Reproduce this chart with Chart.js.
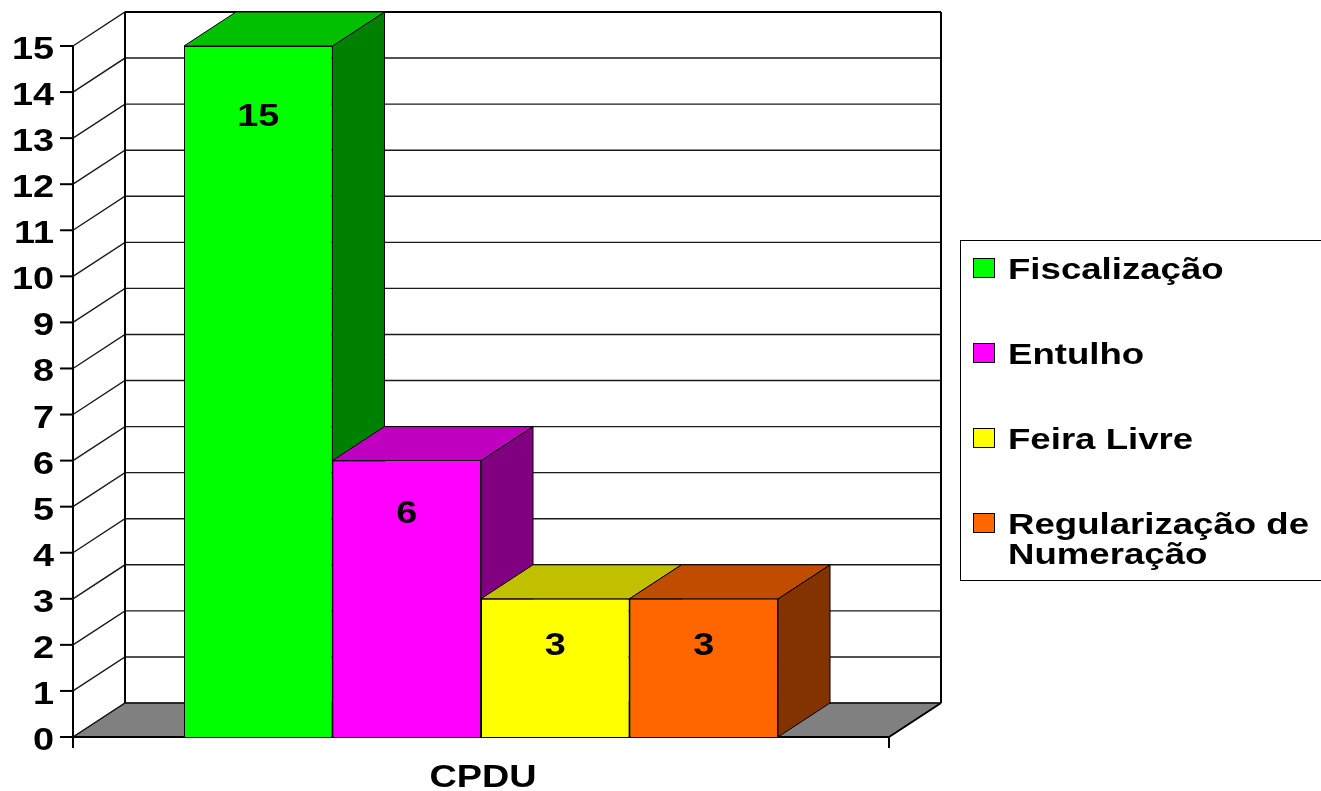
<!DOCTYPE html>
<html>
<head>
<meta charset="utf-8">
<title>CPDU</title>
<script src="https://cdn.jsdelivr.net/npm/chart.js@4.4.1/dist/chart.umd.min.js"></script>
<style>
  html, body { margin: 0; padding: 0; background: #ffffff; }
  #wrap { width: 1321px; height: 791px; position: relative; }
</style>
</head>
<body>
<div id="wrap"><canvas id="cpduChart"></canvas></div>
<script>
// data
const categories = ['CPDU'];
const seriesNames = ['Fiscalização', 'Entulho', 'Feira Livre', 'Regularização de Numeração'];
const seriesValues = [15, 6, 3, 3];
const yTickValues = [0, 1, 2, 3, 4, 5, 6, 7, 8, 9, 10, 11, 12, 13, 14, 15];

// face colours: front / top / side
const frontColors = ['#00ff00', '#ff00ff', '#ffff00', '#ff6600'];
const topColors = ['#00c000', '#c000c0', '#c0c000', '#c04c00'];
const sideColors = ['#008000', '#800080', '#808000', '#833300'];

const DX = 52;       // depth offset, x
const DY = 34;       // depth offset, y
const SX = 1.22;     // the original text is stretched sideways
const FONT = 'bold 31px "Liberation Sans", Arial, sans-serif';
const LEGEND_FONT = 'bold 30px "Liberation Sans", Arial, sans-serif';

function wideText(ctx, text, x, y, align) {
    ctx.save();
    ctx.translate(x, y);
    ctx.scale(SX, 1);
    ctx.textAlign = align;
    ctx.textBaseline = 'alphabetic';
    ctx.fillText(text, 0, 0);
    ctx.restore();
}

function line(ctx, pts) {
    ctx.beginPath();
    ctx.moveTo(pts[0][0], pts[0][1]);
    for (let i = 1; i < pts.length; i++) ctx.lineTo(pts[i][0], pts[i][1]);
    ctx.stroke();
}

function poly(ctx, pts, fill) {
    ctx.beginPath();
    ctx.moveTo(pts[0][0], pts[0][1]);
    for (let i = 1; i < pts.length; i++) ctx.lineTo(pts[i][0], pts[i][1]);
    ctx.closePath();
    ctx.fillStyle = fill;
    ctx.fill();
    ctx.stroke();
}

function drawWalls(chart) {
    const ctx = chart.ctx;
    const { left, right, top, bottom } = chart.chartArea;
    const y = chart.scales.y;

    ctx.save();
    ctx.strokeStyle = '#000000';
    ctx.lineWidth = 1;
    poly(ctx, [[left, bottom], [right, bottom], [right + DX, bottom - DY], [left + DX, bottom - DY]], '#808080');

    ctx.lineWidth = 1.4;
    ctx.strokeStyle = '#1a1a1a';
    yTickValues.forEach(v => {
        const py = y.getPixelForValue(v);
        line(ctx, [[left, py], [left + DX, py - DY], [right + DX, py - DY]]);
    });

    ctx.strokeStyle = '#000000';
    ctx.lineWidth = 2;
    line(ctx, [[left + DX, top - DY], [right + DX, top - DY]]);
    line(ctx, [[left + DX, top - DY], [left + DX, bottom - DY]]);
    line(ctx, [[right + DX, top - DY], [right + DX, bottom - DY]]);
    line(ctx, [[right, bottom], [right + DX, bottom - DY]]);

    // axes
    line(ctx, [[left, top], [left, bottom + 11]]);
    line(ctx, [[left, bottom], [right, bottom]]);
    line(ctx, [[right, bottom], [right, bottom + 11]]);

    ctx.fillStyle = '#000000';
    ctx.font = FONT;
    yTickValues.forEach(v => {
        const py = y.getPixelForValue(v);
        line(ctx, [[left - 13, py], [left, py]]);
        wideText(ctx, String(v), left - 19, py + 13, 'right');
    });
    ctx.restore();
}

function drawBarDepth(chart) {
    const ctx = chart.ctx;
    ctx.save();
    ctx.strokeStyle = '#000000';
    ctx.lineWidth = 1;
    chart.data.datasets.forEach((ds, i) => {
        const bar = chart.getDatasetMeta(i).data[0];
        const x0 = bar.x - bar.width / 2;
        const x1 = bar.x + bar.width / 2;
        const t = bar.y;
        const b = bar.base;
        poly(ctx, [[x1, t], [x1 + DX, t - DY], [x1 + DX, b - DY], [x1, b]], sideColors[i]);
        poly(ctx, [[x0, t], [x1, t], [x1 + DX, t - DY], [x0 + DX, t - DY]], topColors[i]);
    });
    ctx.restore();
}

function drawLabels(chart) {
    const ctx = chart.ctx;
    const { bottom } = chart.chartArea;
    ctx.save();
    ctx.fillStyle = '#000000';
    ctx.font = FONT;
    chart.data.datasets.forEach((ds, i) => {
        const bar = chart.getDatasetMeta(i).data[0];
        // taller bars carry their label a bit lower, like the original
        const drop = 50 + 2 * ds.data[0];
        wideText(ctx, String(ds.data[0]), bar.x, bar.y + drop, 'center');
    });
    wideText(ctx, categories[0], chart.scales.x.getPixelForValue(0) + 2, bottom + 50, 'center');
    ctx.restore();
}

function drawLegend(chart) {
    const ctx = chart.ctx;
    const boxX = 960, boxY = 240, boxW = 380, boxH = 340;
    const maxText = 1318 - 1008;
    ctx.save();
    ctx.strokeStyle = '#000000';
    ctx.lineWidth = 1;
    ctx.strokeRect(boxX + 0.5, boxY + 0.5, boxW, boxH);
    ctx.font = LEGEND_FONT;

    seriesNames.forEach((name, i) => {
        const top = 258 + i * 85;
        ctx.fillStyle = frontColors[i];
        ctx.fillRect(973, top, 22, 20);
        ctx.strokeRect(973.5, top + 0.5, 21, 19);

        // simple word wrap with the stretched width
        const words = name.split(' ');
        const lines = [];
        let cur = '';
        words.forEach(w => {
            const test = cur ? cur + ' ' + w : w;
            if (cur && ctx.measureText(test).width * SX > maxText) {
                lines.push(cur);
                cur = w;
            } else {
                cur = test;
            }
        });
        lines.push(cur);

        ctx.fillStyle = '#000000';
        lines.forEach((txt, k) => wideText(ctx, txt, 1008, top + 21 + k * 30, 'left'));
    });
    ctx.restore();
}

const depthPlugin = {
    id: 'depth3d',
    beforeDatasetsDraw(chart) {
        drawWalls(chart);
        drawBarDepth(chart);
    },
    afterDatasetsDraw(chart) {
        drawLabels(chart);
        drawLegend(chart);
    }
};

new Chart(document.getElementById('cpduChart'), {
    type: 'bar',
    data: {
        labels: categories,
        datasets: seriesNames.map((name, i) => ({
            label: name,
            data: [seriesValues[i]],
            backgroundColor: frontColors[i],
            borderColor: '#000000',
            borderWidth: 1
        }))
    },
    options: {
        responsive: true,
        maintainAspectRatio: false,
        animation: false,
        layout: {
            padding: { left: 73, right: 432, top: 46, bottom: 54 }
        },
        datasets: {
            bar: {
                categoryPercentage: 0.728,
                barPercentage: 1
            }
        },
        plugins: {
            legend: { display: false },
            tooltip: { enabled: false }
        },
        scales: {
            x: { display: false },
            y: { display: false, min: 0, max: 15 }
        }
    },
    plugins: [depthPlugin]
});
</script>
</body>
</html>
